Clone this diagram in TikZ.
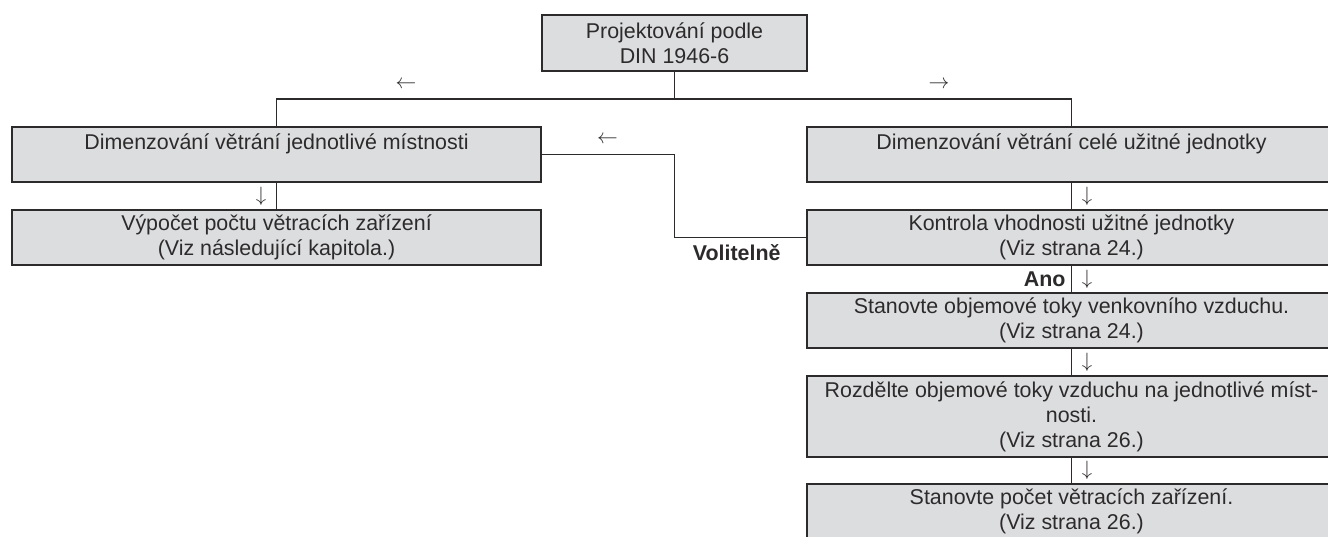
\documentclass[tikz,border=0pt]{standalone}
\usepackage{fontspec}
\setmainfont{Liberation Sans}
\usepackage{tikz}
\definecolor{boxgray}{RGB}{220,221,223}
\definecolor{inkgray}{RGB}{45,42,43}

\begin{document}
\begin{tikzpicture}[x=1pt,y=-1pt,
  every node/.style={font=\fontsize{21.4}{25}\selectfont,text=inkgray},
  box/.style={draw=inkgray,line width=1.4pt,fill=boxgray,align=center,inner sep=2pt,minimum width=529pt,minimum height=55pt},
  conn/.style={draw=inkgray,line width=1.2pt},
  tag/.style={font=\fontsize{21.4}{25}\selectfont\bfseries}]
\useasboundingbox[fill=white] (0,0) rectangle (1328,537);
\node[box,minimum width=265pt,minimum height=56pt] (top) at (674.5,43) {Projektování podle\\DIN 1946-6};
\node[box] (room) at (276.5,154.5) {Dimenzování větrání jednotlivé místnosti\\\mbox{}};
\node[box] (count) at (276.5,237.5) {Výpočet počtu větracích zařízení\\(Viz následující kapitola.)};
\node[box] (unit) at (1071.5,154.5) {Dimenzování větrání celé užitné jednotky\\\mbox{}};
\node[box] (check) at (1071.5,237.5) {Kontrola vhodnosti užitné jednotky\\(Viz strana 24.)};
\node[box] (outdoor) at (1071.5,320.5) {Stanovte objemové toky venkovního vzduchu.\\(Viz strana 24.)};
\node[box,minimum height=81pt] (split) at (1071.5,416.5) {Rozdělte objemové toky vzduchu na jednotlivé míst-\\nosti.\\(Viz strana 26.)};
\node[box] (devices) at (1071.5,511.5) {Stanovte počet větracích zařízení.\\(Viz strana 26.)};
\coordinate (fork) at (674.5,99);
\draw[conn] (top.south) -- (fork);
\draw[conn] (room.north) -- (room.north |- fork) -- (unit.north |- fork) -- (unit.north);
\draw[conn] (room.south) -- (count.north);
\draw[conn] (unit.south) -- (check.north);
\draw[conn] (check.south) -- (outdoor.north);
\draw[conn] (outdoor.south) -- (split.north);
\draw[conn] (split.south) -- (devices.north);
\draw[conn] (check.west) -- (check.west -| fork) |- (room.east);
\node (al) at (406,85) {$\leftarrow$};
\node (ar) at (939,85) {$\rightarrow$};
\node (ab) at (607.5,140) {$\leftarrow$};
\node (d1) at (261,196) {$\downarrow$};
\node (d2) at (1087,196) {$\downarrow$};
\node (d3) at (1087,279) {$\downarrow$};
\node (d4) at (1087,362) {$\downarrow$};
\node (d5) at (1087,470.5) {$\downarrow$};
\node[tag,anchor=east] (yes) at (1069,279) {Ano};
\node[tag,anchor=east] (opt) at (784,253) {Volitelně};
\end{tikzpicture}
\end{document}
